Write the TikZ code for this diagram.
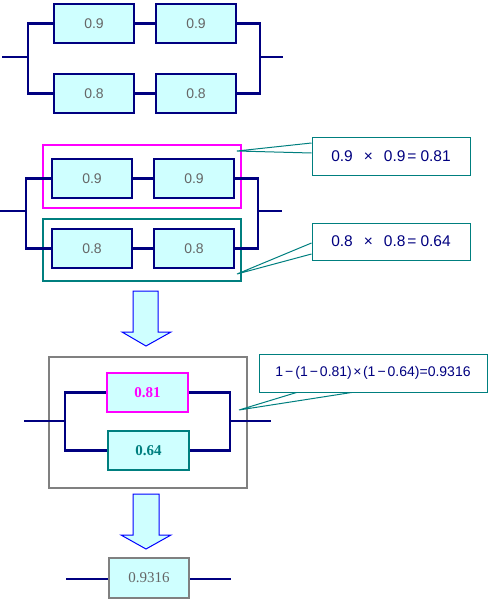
\documentclass[tikz,border=0pt]{standalone}
\usepackage{fontspec}
\setmainfont{Liberation Sans}
\newfontfamily\serifnum{Liberation Serif}
\usetikzlibrary{calc}
\definecolor{navyline}{HTML}{000080}
\definecolor{boxfill}{HTML}{CFFFFF}
\definecolor{numgray}{HTML}{666666}
\definecolor{magframe}{HTML}{FF00FF}
\definecolor{tealframe}{HTML}{007F7F}
\definecolor{grayframe}{HTML}{808080}
\definecolor{arrowblue}{HTML}{0000FF}
\tikzset{
  unitbox/.style={draw=navyline, line width=2.5pt, fill=boxfill, minimum width=80pt, minimum height=39pt, inner sep=0pt, text=numgray, font=\fontsize{14}{16}\selectfont},
  wire/.style={draw=navyline, line width=2.5pt},
  frame/.style={line width=2pt, minimum width=198pt, inner sep=0pt},
  callout/.style={draw=tealframe, line width=1pt, fill=white, inner sep=0pt, text=navyline, font=\fontsize{15.5}{17}\selectfont},
  callline/.style={draw=tealframe, line width=1pt},
  bigarrow/.style={draw=arrowblue, line width=1pt, fill=boxfill, line join=miter},
}
\begin{document}
\begin{tikzpicture}[x=1pt,y=-1pt]
\useasboundingbox (0,0) rectangle (490,602);

% ---------- section 1 ----------
\node[unitbox] (a1) at (94,23.5) {0.9};
\node[unitbox] (a2) at (196,23.5) {0.9};
\node[unitbox] (b1) at (94,93.5) {0.8};
\node[unitbox] (b2) at (196,93.5) {0.8};
\coordinate (in1) at (2,57);
\coordinate (L1) at (28,57);
\coordinate (R1) at (260,57);
\coordinate (out1) at (283,57);
\draw[wire] (a1) -- (a2);
\draw[wire] (b1) -- (b2);
\draw[wire] (in1) -- (L1);
\draw[wire] (a1.west) -| (L1) |- (b1.west);
\draw[wire] (a2.east) -| (R1) |- (b2.east);
\draw[wire] (R1) -- (out1);

% ---------- section 2 ----------
\node[frame, draw=magframe, minimum height=63pt] (mag) at (142,176.5) {};
\node[frame, draw=tealframe, minimum height=62pt] (tea) at (142,250) {};
\node[unitbox] (c1) at (92,178.5) {0.9};
\node[unitbox] (c2) at (194,178.5) {0.9};
\node[unitbox] (d1) at (92,248.5) {0.8};
\node[unitbox] (d2) at (194,248.5) {0.8};
\coordinate (in2) at (0,211);
\coordinate (L2) at (26,211);
\coordinate (R2) at (258,211);
\coordinate (out2) at (282,211);
\draw[wire] (c1) -- (c2);
\draw[wire] (d1) -- (d2);
\draw[wire] (in2) -- (L2);
\draw[wire] (c1.west) -| (L2) |- (d1.west);
\draw[wire] (c2.east) -| (R2) |- (d2.east);
\draw[wire] (R2) -- (out2);

\node[callout, minimum width=158pt, minimum height=38pt] (co1) at (391,156) {0.9\hspace{11pt}×\hspace{11pt}0.9\hspace{2pt}=\hspace{4pt}0.81};
\node[callout, minimum width=158pt, minimum height=37pt] (co2) at (391,241.5) {0.8\hspace{11pt}×\hspace{11pt}0.8\hspace{2pt}=\hspace{4pt}0.64};
\coordinate (t1) at (237,151);
\coordinate (t2) at (237,274);
\draw[callline] ($(co1.west)+(0,-13)$) -- (t1) -- ($(co1.west)+(0,-3)$);
\draw[callline] ($(co2.west)+(0,1.5)$) -- (t2) -- ($(co2.west)+(0,12.5)$);

% ---------- arrow 1 ----------
\filldraw[bigarrow] (133,291) -- (158,291) -- (158,332) -- (171,332) -- (146,346) -- (122,332) -- (133,332) -- cycle;

% ---------- section 3 ----------
\node[frame, draw=grayframe, minimum height=131pt] (gry) at (148,422.5) {};
\node[unitbox, draw=magframe, minimum width=81pt, text=magframe, font=\serifnum\bfseries\fontsize{15}{17}\selectfont] (e1) at (147.5,392.5) {0.81};
\node[unitbox, draw=tealframe, minimum width=81pt, text=tealframe, font=\serifnum\bfseries\fontsize{15}{17}\selectfont] (e2) at (148.5,450.5) {0.64};
\coordinate (in3) at (24,421);
\coordinate (L3) at (65,421);
\coordinate (R3) at (230,421);
\coordinate (out3) at (271,421);
\draw[wire] (in3) -- (L3);
\draw[wire] (e1.west) -| (L3) |- (e2.west);
\draw[wire] (e1.east) -| (R3) |- (e2.east);
\draw[wire] (R3) -- (out3);

\node[callout, minimum width=228pt, minimum height=38pt, font=\fontsize{14}{16}\selectfont] (co3) at (373,373) {1\hspace{2pt}−\hspace{2pt}(1\hspace{2pt}−\hspace{2pt}0.81)\hspace{1.5pt}×\hspace{1.5pt}(1\hspace{2pt}−\hspace{2pt}0.64)=0.9316};
\coordinate (t3) at (239,410);
\draw[callline] ($(co3.south west)+(38,0)$) -- (t3) -- ($(co3.south west)+(93,0)$);

% ---------- arrow 2 ----------
\filldraw[bigarrow] (133,494) -- (159,494) -- (159,535) -- (171,535) -- (146,549) -- (121,535) -- (133,535) -- cycle;

% ---------- section 4 ----------
\node[unitbox, draw=grayframe, minimum height=40pt, font=\serifnum\fontsize{15}{17}\selectfont] (f) at (149,578) {0.9316};
\coordinate (in4) at (66,579);
\coordinate (out4) at (231,579);
\draw[wire] (in4) -- (f.west |- in4);
\draw[wire] (f.east |- out4) -- (out4);
\end{tikzpicture}
\end{document}
